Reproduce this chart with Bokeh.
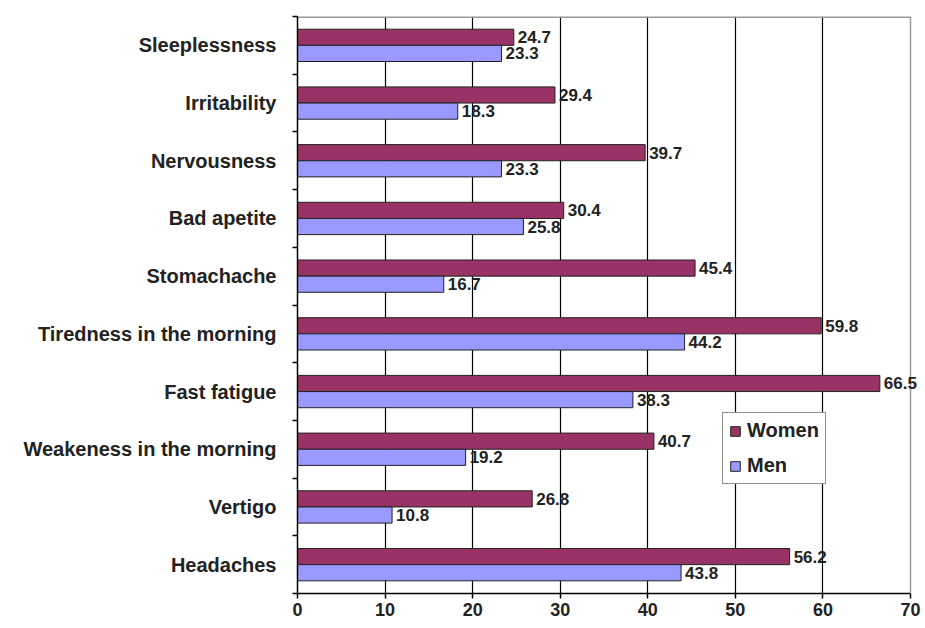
from bokeh.plotting import figure
from bokeh.models import ColumnDataSource, FixedTicker, Legend, LegendItem, LabelSet, Span
from bokeh.core.properties import value
from bokeh.embed import file_html
from bokeh.resources import INLINE

# Data (bottom to top)
categories = ["Headaches", "Vertigo", "Weakeness in the morning", "Fast fatigue",
              "Tiredness in the morning", "Stomachache", "Bad apetite",
              "Nervousness", "Irritability", "Sleeplessness"]
women = [56.2, 26.8, 40.7, 66.5, 59.8, 45.4, 30.4, 39.7, 29.4, 24.7]
men = [43.8, 10.8, 19.2, 38.3, 44.2, 16.7, 25.8, 23.3, 18.3, 23.3]
x_ticks = [0, 10, 20, 30, 40, 50, 60, 70]

centers = [i + 0.5 for i in range(len(categories))]
bar_h = 0.28
src = ColumnDataSource(dict(
    yw=[c + bar_h / 2 for c in centers],
    ym=[c - bar_h / 2 for c in centers],
    women=women, men=men,
    wl=[f"{v:.1f}" for v in women],
    ml=[f"{v:.1f}" for v in men],
))

FONT = "Liberation Sans"
TXT = "#222222"
BORDER = "#9a9a9a"

x_min, x_max = x_ticks[0], x_ticks[-1]
W, LEFT = 921, 297
px_per_unit = 613.0 / (x_max - x_min)
x_end = x_min + (W - LEFT) / px_per_unit  # a bit of room right of the plot area for labels

p = figure(width=W, height=620, x_range=(x_min, x_end), y_range=(0, len(categories)),
           output_backend="svg", toolbar_location=None,
           min_border_left=LEFT, min_border_right=0, min_border_top=16, min_border_bottom=27)
p.background_fill_color = "white"
p.outline_line_color = None

p.xgrid.ticker = FixedTicker(ticks=x_ticks[1:-1])
p.xgrid.grid_line_color = "black"
p.xgrid.grid_line_width = 1.2
p.ygrid.grid_line_color = None

# plot-area border (top and right), grey like the reference
p.segment(x0=[x_min], y0=[len(categories)], x1=[x_max], y1=[len(categories)],
          line_color=BORDER, line_width=3)
p.add_layout(Span(location=x_max, dimension="height", line_color=BORDER, line_width=1.5))

rw = p.hbar(y="yw", right="women", left=0, height=bar_h, source=src,
            fill_color="#993366", line_color="#222222", line_width=1)
rm = p.hbar(y="ym", right="men", left=0, height=bar_h, source=src,
            fill_color="#9999FF", line_color="#222222", line_width=1)

for xcol, ycol, tcol in (("women", "yw", "wl"), ("men", "ym", "ml")):
    p.add_layout(LabelSet(x=xcol, y=ycol, text=tcol, source=src, x_offset=4,
                          text_baseline="middle", text_align="left", text_font=value(FONT),
                          text_font_style="bold", text_font_size="17px", text_color=TXT))

# x axis
p.xaxis.ticker = FixedTicker(ticks=x_ticks)
p.xaxis.bounds = (x_min, x_max)
p.xaxis.major_tick_out = 5
p.xaxis.major_tick_in = 0
p.xaxis.minor_tick_out = 0
p.xaxis.axis_line_color = "black"
p.xaxis.axis_line_width = 1.5
p.xaxis.major_tick_line_width = 1.5
p.xaxis.major_label_standoff = 4
p.xaxis.major_label_text_font = FONT
p.xaxis.major_label_text_font_style = "bold"
p.xaxis.major_label_text_font_size = "18px"
p.xaxis.major_label_text_color = TXT

# y axis: labels at centers, ticks at category boundaries
p.yaxis.ticker = FixedTicker(ticks=centers, minor_ticks=list(range(len(categories) + 1)))
p.yaxis.major_label_overrides = {c: n for c, n in zip(centers, categories)}
p.yaxis.major_tick_out = 0
p.yaxis.major_tick_in = 0
p.yaxis.minor_tick_out = 5
p.yaxis.minor_tick_in = 0
p.yaxis.minor_tick_line_color = "black"
p.yaxis.minor_tick_line_width = 1.5
p.yaxis.axis_line_color = "black"
p.yaxis.axis_line_width = 1.5
p.yaxis.major_label_standoff = 16
p.yaxis.major_label_text_font = FONT
p.yaxis.major_label_text_font_style = "bold"
p.yaxis.major_label_text_font_size = "20px"
p.yaxis.major_label_text_color = TXT

legend = Legend(items=[LegendItem(label="Women", renderers=[rw]),
                       LegendItem(label="Men", renderers=[rm])],
                location=(425, 109))
legend.glyph_width = 12
legend.glyph_height = 12
legend.label_text_font = FONT
legend.label_text_font_style = "bold"
legend.label_text_font_size = "20px"
legend.label_text_color = TXT
legend.label_height = 22
legend.spacing = 12
legend.padding = 6
legend.margin = 0
legend.label_standoff = 6
legend.border_line_color = "#222222"
legend.border_line_width = 1.5
legend.background_fill_color = "white"
legend.background_fill_alpha = 1.0
p.add_layout(legend, "center")

open("out.html", "w").write(file_html(p, INLINE))
